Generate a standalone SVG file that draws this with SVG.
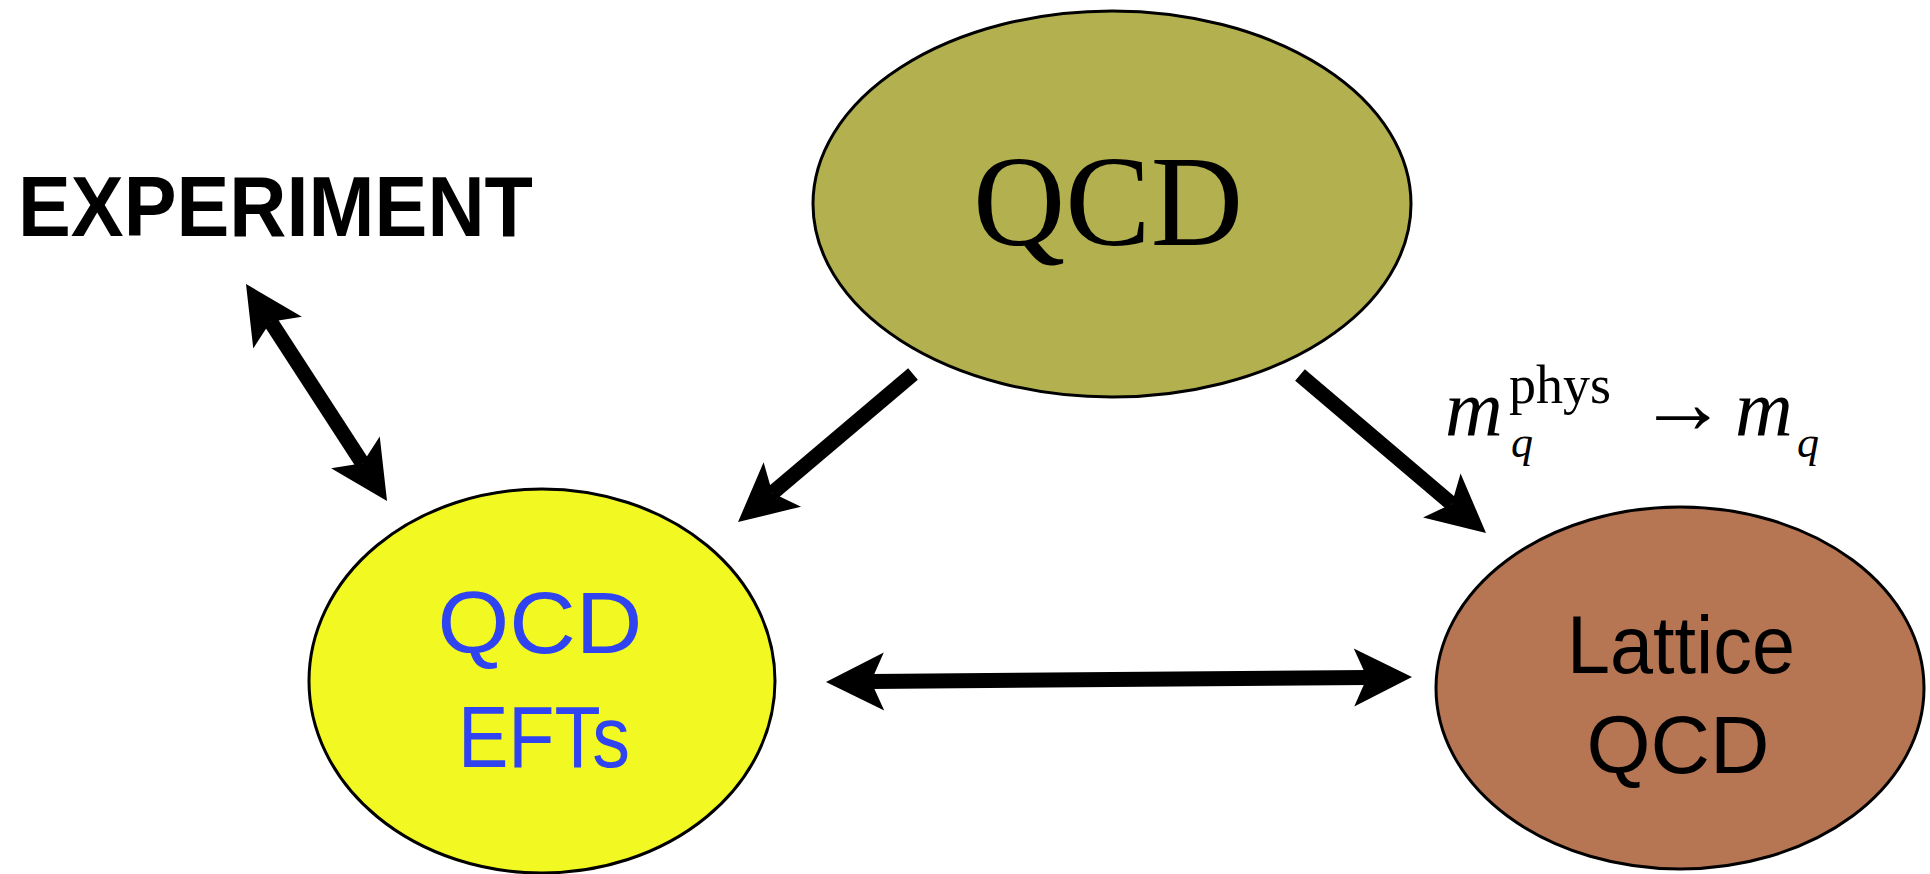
<svg xmlns="http://www.w3.org/2000/svg" width="1930" height="874" viewBox="0 0 1930 874">
  <style>
    .node { stroke: #000; stroke-width: 3; }
    .sans { font-family: "Liberation Sans", "Open Sans", sans-serif; }
    .serif { font-family: "Liberation Serif", "DejaVu Serif", serif; }
    .conn { stroke: #000; stroke-width: 15; fill: none; stroke-linecap: butt; }
  </style>
  <defs>
    <marker id="head" viewBox="-60 -31 62 62" refX="-45" refY="0" markerUnits="userSpaceOnUse" markerWidth="62" markerHeight="62" orient="auto-start-reverse" overflow="visible">
      <path d="M0,0 L-58,-29 L-45,0 L-58,29 Z" fill="#000"/>
    </marker>
  </defs>
  <rect x="0" y="0" width="1930" height="874" fill="#fff"/>

  <g id="experiment">
    <text class="sans" x="18" y="236" font-size="86" font-weight="bold" textLength="515" lengthAdjust="spacingAndGlyphs" fill="#000">EXPERIMENT</text>
  </g>

  <g id="qcd">
    <ellipse class="node" cx="1112" cy="204" rx="299" ry="193" fill="#B3B04F"/>
    <text class="serif" x="1108" y="245" font-size="130" text-anchor="middle" textLength="270" lengthAdjust="spacingAndGlyphs" fill="#000">QCD</text>
  </g>

  <g id="qcd-efts">
    <ellipse class="node" cx="542" cy="681" rx="233" ry="192" fill="#F1F822"/>
    <text class="sans" x="540" y="653" font-size="88" text-anchor="middle" textLength="205" lengthAdjust="spacingAndGlyphs" fill="#2F44F0">QCD</text>
    <text class="sans" x="544" y="767" font-size="88" text-anchor="middle" textLength="172" lengthAdjust="spacingAndGlyphs" fill="#2F44F0">EFTs</text>
  </g>

  <g id="lattice-qcd">
    <ellipse class="node" cx="1680" cy="688" rx="244" ry="181" fill="#B67553"/>
    <text class="sans" x="1681" y="673" font-size="81" text-anchor="middle" textLength="228" lengthAdjust="spacingAndGlyphs" fill="#000">Lattice</text>
    <text class="sans" x="1678" y="773" font-size="81" text-anchor="middle" textLength="183" lengthAdjust="spacingAndGlyphs" fill="#000">QCD</text>
  </g>

  <g id="connectors">
    <line class="conn" x1="270.5" y1="321.7" x2="362.5" y2="463.3" marker-start="url(#head)" marker-end="url(#head)"/>
    <line class="conn" x1="913" y1="374" x2="772.4" y2="492.9" marker-end="url(#head)"/>
    <line class="conn" x1="1300" y1="375" x2="1451.7" y2="503.9" marker-end="url(#head)"/>
    <line class="conn" x1="871" y1="681.6" x2="1367" y2="677.4" marker-start="url(#head)" marker-end="url(#head)"/>
  </g>

  <g id="label-mass">
    <text class="serif" fill="#000">
      <tspan x="1445" y="435" font-size="80" font-style="italic">m</tspan>
      <tspan x="1509" y="403" font-size="54">phys</tspan>
      <tspan x="1511" y="457" font-size="44" font-style="italic">q</tspan>
      <tspan x="1638" y="433" font-size="90">→</tspan>
      <tspan x="1735" y="435" font-size="80" font-style="italic">m</tspan>
      <tspan x="1797" y="457" font-size="44" font-style="italic">q</tspan>
    </text>
  </g>
</svg>
